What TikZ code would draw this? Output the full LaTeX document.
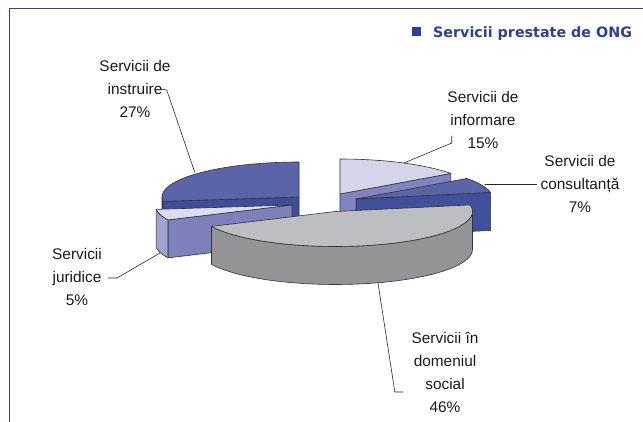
\documentclass[tikz,border=0pt]{standalone}
\usepackage{fontspec}
\setmainfont{Liberation Sans}
\newfontfamily\legendfont{DejaVu Sans}
\usetikzlibrary{calc}

\definecolor{frameblue}{HTML}{2B3F97}
\definecolor{instrtop}{HTML}{5B64A8}
\definecolor{instrside}{HTML}{3F4D9A}
\definecolor{inftop}{HTML}{D4D5E8}
\definecolor{infside}{HTML}{8084C2}
\definecolor{constop}{HTML}{5B64A8}
\definecolor{consside}{HTML}{40509C}
\definecolor{jurtop}{HTML}{DCDCEE}
\definecolor{jurside}{HTML}{7D80BB}
\definecolor{jurwall}{HTML}{A0A2D0}
\definecolor{soctop}{HTML}{BDBEC2}
\definecolor{socwall}{HTML}{939496}

\newcommand{\pierx}{137}
\newcommand{\piery}{35}
\newcommand{\pieh}{38}

\begin{document}
\begin{tikzpicture}[x=1pt,y=-1pt,
    rimline/.style={draw=black!80,line width=0.6pt,line join=round},
    lbl/.style={align=center,inner sep=0pt,text=black!90,font=\fontsize{15.4}{23}\selectfont},
    leaderline/.style={draw=black!85,line width=0.6pt},
    boxframe/.style={draw=frameblue,line width=1.3pt}]

    \useasboundingbox (0,0) rectangle (643,422);
    \draw[boxframe] (643,8.3) -- (9.5,8.3) -- (9.5,422);

    % servicii de instruire
    \begin{scope}[shift={(299,197)}]
      \filldraw[rimline,fill=instrside] (0,0) -- ({\pierx*sin(262.8)},{-\piery*cos(262.8)}) -- ++(0,\pieh) -- (0,\pieh) -- cycle;
      \filldraw[rimline,fill=instrside] plot[domain=262.8:270,samples=5] ({\pierx*sin(\x)},{-\piery*cos(\x)})
        -- plot[domain=270:262.8,samples=5] ({\pierx*sin(\x)},{-\piery*cos(\x)+\pieh}) -- cycle;
      \filldraw[rimline,fill=instrtop] (0,0) -- plot[domain=262.8:360,samples=40] ({\pierx*sin(\x)},{-\piery*cos(\x)}) -- cycle;
    \end{scope}

    % servicii de informare
    \begin{scope}[shift={(340,194)}]
      \filldraw[rimline,fill=infside] (0,0) -- ({\pierx*sin(54)},{-\piery*cos(54)}) -- ++(0,\pieh) -- (0,\pieh) -- cycle;
      \filldraw[rimline,fill=inftop] (0,0) -- plot[domain=0:54,samples=25] ({\pierx*sin(\x)},{-\piery*cos(\x)}) -- cycle;
    \end{scope}

    % servicii de consultanta
    \begin{scope}[shift={(356,199)}]
      \filldraw[rimline,fill=consside] (0,0) -- ({\pierx*sin(79.2)},{-\piery*cos(79.2)}) -- ++(0,\pieh) -- (0,\pieh) -- cycle;
      \filldraw[rimline,fill=constop] (0,0) -- plot[domain=54:79.2,samples=15] ({\pierx*sin(\x)},{-\piery*cos(\x)}) -- cycle;
    \end{scope}

    % servicii juridice
    \begin{scope}[shift={(292,205)}]
      \filldraw[rimline,fill=jurside] (0,0) -- ({\pierx*sin(244.8)},{-\piery*cos(244.8)}) -- ++(0,\pieh) -- (0,\pieh) -- cycle;
      \filldraw[rimline,fill=jurwall] plot[domain=244.8:262.8,samples=10] ({\pierx*sin(\x)},{-\piery*cos(\x)})
        -- plot[domain=262.8:244.8,samples=10] ({\pierx*sin(\x)},{-\piery*cos(\x)+\pieh}) -- cycle;
      \filldraw[rimline,fill=jurtop] (0,0) -- plot[domain=244.8:262.8,samples=10] ({\pierx*sin(\x)},{-\piery*cos(\x)}) -- cycle;
    \end{scope}

    % servicii in domeniul social
    \begin{scope}[shift={(335.5,211.5)}]
      \filldraw[rimline,fill=socwall] plot[domain=90:244.8,samples=50] ({\pierx*sin(\x)},{-\piery*cos(\x)})
        -- plot[domain=244.8:90,samples=50] ({\pierx*sin(\x)},{-\piery*cos(\x)+\pieh}) -- cycle;
      \filldraw[rimline,fill=soctop] (0,0) -- plot[domain=79.2:244.8,samples=60] ({\pierx*sin(\x)},{-\piery*cos(\x)}) -- cycle;
    \end{scope}

    % legend
    \node[fill=frameblue,minimum size=9pt,inner sep=0pt] (legkey) at (416,32) {};
    \node[anchor=west,inner sep=0pt,text=frameblue,font=\legendfont\bfseries\fontsize{14.3}{17}\selectfont] (legtext) at (433,34) {Servicii prestate de ONG};

    % labels
    \node[lbl] (lin) at (135,89) {Servicii de\\instruire\\27\%};
    \node[lbl] (lif) at (483,120) {Servicii de\\informare\\15\%};
    \node[lbl] (lco) at (580,184) {Servicii de\\consultanță\\7\%};
    \node[lbl] (lju) at (77,277) {Servicii\\juridice\\5\%};
    \node[lbl] (lsc) at (445,372) {Servicii în\\domeniul\\social\\46\%};

    \coordinate (pin) at (195,173);
    \coordinate (pif) at (404,163);
    \coordinate (pco) at (485,184);
    \coordinate (pju) at (160,253);
    \coordinate (psc) at (378,283);

    \draw[leaderline] ([xshift=-10pt]lin.east) -- ++(6,1) -- (pin);
    \draw[leaderline] ([shift={(4.5,16)}]lif.west) -- ++(0,7) -- (pif);
    \draw[leaderline] ([xshift=-3pt]lco.west) -- (pco);
    \draw[leaderline] ([shift={(6,1)}]lju.east) -- ++(9,0) -- (pju);
    \draw[leaderline] ([shift={(-8.6,20)}]lsc.west) -- ++(-8,0) -- (psc);
\end{tikzpicture}
\end{document}
